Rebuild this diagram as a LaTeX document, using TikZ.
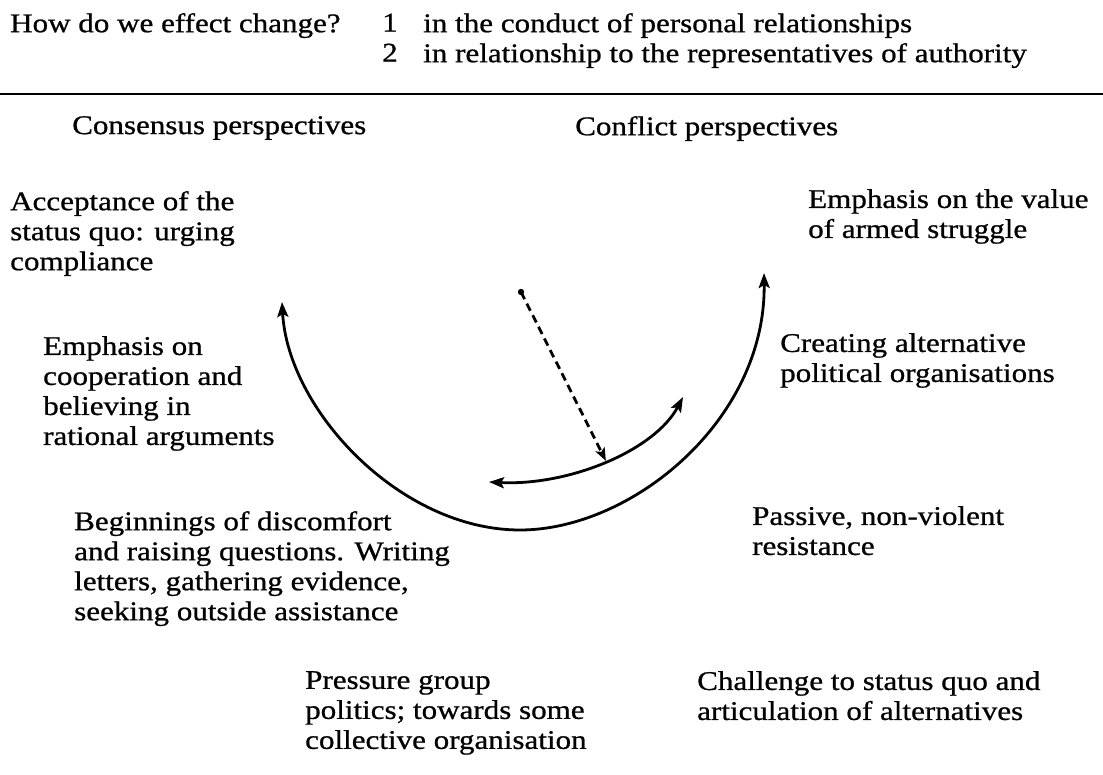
\documentclass[tikz,border=0pt]{standalone}
\usepackage{fontspec}
\setmainfont{Liberation Serif}[FakeStretch=1.15,FakeBold=0.8]
\usetikzlibrary{arrows.meta}
\begin{document}
\begin{tikzpicture}[x=1pt,y=-1pt,
  txt/.style={anchor=north west,inner sep=0pt,align=left,
    font=\fontsize{27}{30}\selectfont},
  curve/.style={line width=2.8pt,{Stealth[length=15pt,width=11pt,inset=3pt]}-{Stealth[length=15pt,width=11pt,inset=3pt]}},
  hint/.style={line width=2.8pt,dash pattern=on 8pt off 5pt,-{Stealth[length=13pt,width=10pt,inset=3pt]}},
  rule/.style={line width=2.4pt}]
\useasboundingbox (0,0) rectangle (1103,775);

% heading
\node[txt] (q)  at (10,13)   {How do we effect change?};
\node[txt] (n1) at (382,13.5) {1};
\node[txt] (l1) at (423,13)  {in the conduct of personal relationships};
\node[txt] (n2) at (382,43.5) {2};
\node[txt] (l2) at (423,43)  {in relationship to the representatives of authority};
\coordinate (ruleL) at (0,94);
\coordinate (ruleR) at (1103,94);
\draw[rule] (ruleL) -- (ruleR);

% column heads
\node[txt] (cons) at (72,116)  {Consensus perspectives};
\node[txt] (conf) at (575,116) {Conflict perspectives};

% stages
\node[txt] (accept)  at (10,191)  {Acceptance of the\\status quo: urging\\compliance};
\node[txt] (armed)   at (808,189) {Emphasis on the value\\of armed struggle};
\node[txt] (coop)    at (43,336)  {Emphasis on\\cooperation and\\believing in\\rational arguments};
\node[txt] (create)  at (780,333) {Creating alternative\\political organisations};
\node[txt] (begin)   at (74,511)  {Beginnings of discomfort\\and raising questions. Writing\\letters, gathering evidence,\\seeking outside assistance};
\node[txt] (passive) at (752,506) {Passive, non-violent\\resistance};
\node[txt] (press)   at (305,671) {Pressure group\\politics; towards some\\collective organisation};
\node[txt] (chall)   at (697,671) {Challenge to status quo and\\articulation of alternatives};

% large arc from consensus round to conflict
\coordinate (bigL) at (282,302);
\coordinate (bigB) at (520,530);
\coordinate (bigR) at (764,273);
\draw[curve] (bigL) .. controls (288,410) and (400,530) .. (bigB)
                    .. controls (632,530) and (766,420) .. (bigR);

% small arc, with the point where the pointer lands on it
\coordinate (smL) at (489,482);
\coordinate (smR) at (683,397);
\draw[curve] (smL) .. controls (570,486) and (655,450) .. coordinate[pos=0.5] (meet) (smR);

% dashed pointer
\coordinate (dot) at (521,292);
\fill (dot) circle (3.2pt);
\draw[hint] (dot) -- (meet);
\end{tikzpicture}
\end{document}
